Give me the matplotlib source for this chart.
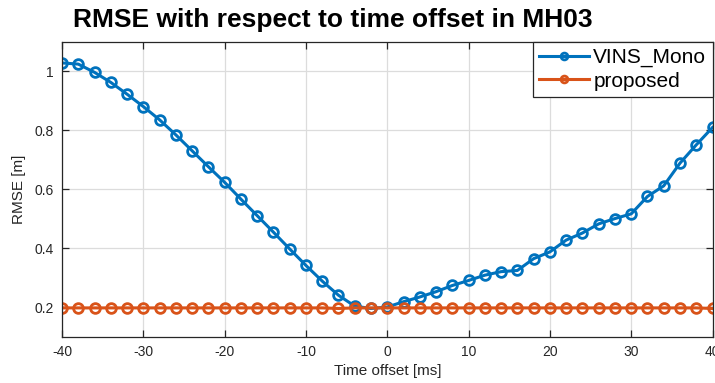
import matplotlib
matplotlib.use("Agg")
import matplotlib.pyplot as plt
import numpy as np

plt.rcParams['font.family'] = ['Liberation Sans', 'DejaVu Sans']
plt.rcParams['axes.unicode_minus'] = False

time_offset_ms = list(range(-40, 41, 2))
vins_mono = [1.028, 1.024, 0.996, 0.962, 0.922, 0.880, 0.835, 0.784, 0.730, 0.676,
             0.623, 0.566, 0.510, 0.454, 0.397, 0.341, 0.288, 0.240, 0.203, 0.195,
             0.200, 0.218, 0.234, 0.252, 0.273, 0.290, 0.308, 0.320, 0.324, 0.364,
             0.387, 0.427, 0.451, 0.482, 0.500, 0.516, 0.575, 0.611, 0.688, 0.750,
             0.809]
proposed = [0.197, 0.197, 0.197, 0.197, 0.197, 0.197, 0.197, 0.197, 0.197, 0.197,
            0.197, 0.197, 0.197, 0.197, 0.197, 0.197, 0.197, 0.195, 0.197, 0.197,
            0.197, 0.197, 0.197, 0.197, 0.197, 0.197, 0.197, 0.197, 0.197, 0.197,
            0.197, 0.197, 0.197, 0.197, 0.197, 0.197, 0.197, 0.197, 0.197, 0.197,
            0.195]
x_ticks = [-40, -30, -20, -10, 0, 10, 20, 30, 40]
y_ticks = [0.2, 0.4, 0.6, 0.8, 1.0]
y_tick_labels = ["0.2", "0.4", "0.6", "0.8", "1"]

fig = plt.figure(figsize=(7.15, 3.83), dpi=100)
ax = fig.add_axes([62 / 715, 1 - 336.5 / 383, (712.5 - 62) / 715, (336.5 - 41.7) / 383])

line_kw = dict(linewidth=2.2, marker='o', markersize=7, markerfacecolor='none',
               markeredgewidth=2.0)
ax.plot(time_offset_ms, vins_mono, color='#0072BD', label='VINS_Mono', **line_kw)
ax.plot(time_offset_ms, proposed, color='#D95319', label='proposed', **line_kw)

ax.set_xlim(-40, 40)
ax.set_ylim(0.1, 1.1)
ax.set_xticks(x_ticks)
ax.set_yticks(y_ticks)
ax.set_yticklabels(y_tick_labels)
ax.grid(True, color='#dcdcdc', linewidth=0.9)
ax.set_axisbelow(True)
ax.tick_params(direction='in', top=True, right=True, length=5, width=0.9,
               labelsize=10, colors='#262626', pad=6)
for s in ax.spines.values():
    s.set_color('#262626')
    s.set_linewidth(0.9)

ax.set_xlabel('Time offset [ms]', fontsize=11, color='#262626', labelpad=4)
ax.set_ylabel('RMSE [m]', fontsize=11, color='#262626', labelpad=6)

leg = ax.legend(loc='upper right', fontsize=15, frameon=True, fancybox=False,
                borderaxespad=0, handlelength=2.4, borderpad=0.3,
                labelspacing=0.22, handletextpad=0.2, markerscale=0.7)
leg.get_frame().set_edgecolor('#262626')
leg.get_frame().set_linewidth(0.9)
leg.get_frame().set_alpha(1)

fig.text(73 / 715, 1 - 27 / 383, 'RMSE with respect to time offset in MH03',
         fontsize=19, fontweight='bold', ha='left', va='baseline', color='black')

fig.savefig('out.png', dpi=100)
